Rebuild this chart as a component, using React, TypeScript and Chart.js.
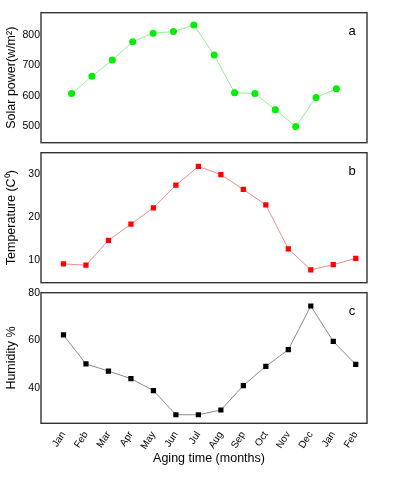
import React, { useEffect, useRef } from 'react';
import { Chart, registerables } from 'chart.js';

Chart.register(...registerables);
Chart.defaults.font.family = '"Liberation Sans", Arial, Helvetica, sans-serif';

const months = ['Jan', 'Feb', 'Mar', 'Apr', 'May', 'Jun', 'Jul', 'Aug', 'Sep', 'Oct', 'Nov', 'Dec', 'Jan', 'Feb'];
const solarPower = [608, 665, 718, 778, 806, 811, 833, 734, 611, 608, 555, 500, 595, 624];
const temperature = [9.1, 8.8, 14.6, 18.4, 22.2, 27.5, 31.9, 30.0, 26.5, 22.9, 12.6, 7.7, 8.9, 10.4];
const humidity = [62.2, 50, 47, 43.8, 38.8, 28.6, 28.6, 30.6, 40.9, 49, 56, 74.4, 59.5, 49.8];
const solarTicks = [500, 600, 700, 800];
const tempTicks = [10, 20, 30];
const humidityTicks = [40, 60, 80];

const framePlugin = {
  id: 'frame',
  afterDraw(chart: any, _args: any, opts: any) {
    const { ctx, chartArea: a } = chart;
    ctx.save();
    ctx.strokeStyle = '#333';
    ctx.lineWidth = 1.4;
    ctx.strokeRect(a.left, a.top, a.right - a.left, a.bottom - a.top);
    ctx.fillStyle = '#000';
    ctx.font = '13px "Liberation Sans", Arial, sans-serif';
    ctx.textAlign = 'center';
    ctx.textBaseline = 'middle';
    ctx.fillText(opts.letter, a.right - 15, a.top + 19);
    if (opts.xTitle) {
      ctx.font = '12.5px "Liberation Sans", Arial, sans-serif';
      ctx.fillText(opts.xTitle, 209, chart.height - 18);
    }
    ctx.restore();
  },
};

type PanelProps = {
  top: number;
  height: number;
  padTop: number;
  padBottom: number;
  values: number[];
  yMin: number;
  yMax: number;
  yTicks: number[];
  xMin: number;
  xMax: number;
  showX: boolean;
  title: string;
  letter: string;
  lineColor: string;
  pointColor: string;
  pointStyle: string;
  pointRadius: number;
};

function Panel(p: PanelProps) {
  const ref = useRef<HTMLCanvasElement>(null);
  useEffect(() => {
    if (!ref.current) return;
    const chart = new Chart(ref.current, {
      type: 'line',
      data: {
        datasets: [
          {
            data: p.values.map((v, i) => ({ x: i, y: v })),
            borderColor: p.lineColor,
            borderWidth: 1,
            pointBackgroundColor: p.pointColor,
            pointBorderColor: p.pointColor,
            pointBorderWidth: 0,
            pointStyle: p.pointStyle as any,
            pointRadius: p.pointRadius,
            tension: 0,
          },
        ],
      },
      options: {
        animation: false,
        responsive: false,
        devicePixelRatio: 1,
        layout: { padding: { left: 0, right: 26, top: p.padTop, bottom: p.padBottom } },
        plugins: {
          legend: { display: false },
          tooltip: { enabled: false },
          frame: { letter: p.letter, xTitle: p.showX ? 'Aging time (months)' : '' },
        } as any,
        scales: {
          x: {
            type: 'linear',
            min: p.xMin,
            max: p.xMax,
            display: p.showX,
            grid: { display: false, drawTicks: false },
            border: { display: false },
            afterBuildTicks: (s: any) => {
              s.ticks = months.map((_, i) => ({ value: i }));
            },
            afterFit: (s: any) => {
              if (p.showX) s.height = 53.7;
            },
            ticks: {
              autoSkip: false,
              minRotation: 57,
              maxRotation: 57,
              padding: 6,
              color: '#000',
              font: { size: 10 },
              callback: (v: any) => months[v] ?? '',
            },
            title: { display: false },
          },
          y: {
            type: 'linear',
            min: p.yMin,
            max: p.yMax,
            grid: { display: false, drawTicks: false },
            border: { display: false },
            afterBuildTicks: (s: any) => {
              s.ticks = p.yTicks.map((v) => ({ value: v }));
            },
            afterFit: (s: any) => {
              s.width = 41;
            },
            ticks: {
              padding: 1,
              color: '#000',
              font: { size: 10.5 },
            },
            title: {
              display: true,
              text: p.title,
              color: '#000',
              font: { size: 12.5 },
              padding: { top: 4, bottom: 0 },
            },
          },
        },
      },
      plugins: [framePlugin],
    } as any);
    return () => chart.destroy();
  }, []);
  return (
    <canvas
      ref={ref}
      width={393}
      height={p.height}
      style={{ position: 'absolute', left: 0, top: p.top, width: 393, height: p.height }}
    />
  );
}

export default function App() {
  return (
    <div style={{ position: 'absolute', left: 0, top: 0, width: 393, height: 477, background: '#fff' }}>
      <Panel
        top={0}
        height={150}
        padTop={12.7}
        padBottom={6.7}
        values={solarPower}
        yMin={447}
        yMax={873}
        yTicks={solarTicks}
        xMin={-1.5}
        xMax={14.5}
        showX={false}
        title="Solar power(w/m²)"
        letter="a"
        lineColor="#8ef08e"
        pointColor="#00ee00"
        pointStyle="circle"
        pointRadius={3.5}
      />
      <Panel
        top={145}
        height={145}
        padTop={7.7}
        padBottom={7.3}
        values={temperature}
        yMin={4.7}
        yMax={35.1}
        yTicks={tempTicks}
        xMin={-1}
        xMax={13.5}
        showX={false}
        title="Temperature (C⁰)"
        letter="b"
        lineColor="#f08a8a"
        pointColor="#ff0000"
        pointStyle="rect"
        pointRadius={3.7}
      />
      <Panel
        top={285}
        height={192}
        padTop={7.7}
        padBottom={0}
        values={humidity}
        yMin={25}
        yMax={80}
        yTicks={humidityTicks}
        xMin={-1}
        xMax={13.5}
        showX={true}
        title="Humidity %"
        letter="c"
        lineColor="#8a8a8a"
        pointColor="#000000"
        pointStyle="rect"
        pointRadius={3.7}
      />
    </div>
  );
}
